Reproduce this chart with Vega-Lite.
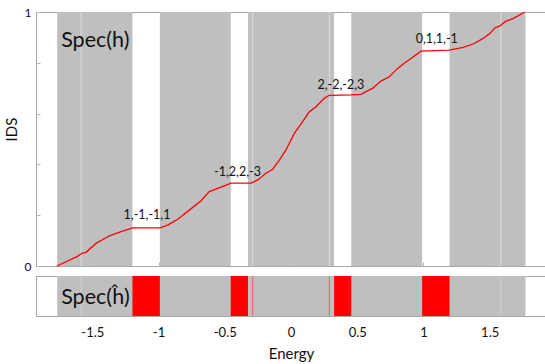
{
  "$schema": "https://vega.github.io/schema/vega-lite/v6.json",
  "padding": {"left": 3, "top": 5, "right": 0, "bottom": 0},
  "background": "white",
  "spacing": 10,
  "bounds": "flush",
  "config": {
    "view": {"stroke": "#a6a6a6", "strokeWidth": 1},
    "font": "Lato",
    "axis": {"grid": false, "labelColor": "#111111", "titleColor": "#111111", "labelFont": "Lato", "titleFont": "Lato", "domainColor": "#a6a6a6", "tickColor": "#b4b4b4", "titleFontWeight": "normal"}
  },
  "datasets": {
    "spec": [
      {"e": -1.765, "e2": -1.197},
      {"e": -0.990, "e2": -0.455},
      {"e": -0.325, "e2": 0.325},
      {"e": 0.455, "e2": 0.990},
      {"e": 1.197, "e2": 1.77}
    ],
    "bspec": [
      {"e": -1.765, "e2": 1.77}
    ],
    "lightlines": [
      {"e": -1.584},
      {"e": -0.290},
      {"e": 0.290},
      {"e": 1.584}
    ],
    "blight": [
      {"e": -1.584},
      {"e": 1.584}
    ],
    "gaps": [
      {"e": -1.197, "e2": -0.990},
      {"e": -0.455, "e2": -0.325},
      {"e": 0.325, "e2": 0.455},
      {"e": 0.990, "e2": 1.197}
    ],
    "redlines": [
      {"e": -0.289},
      {"e": 0.289}
    ],
    "ids": [
      {"e": -1.767, "v": 0.000},
      {"e": -1.616, "v": 0.037},
      {"e": -1.578, "v": 0.050},
      {"e": -1.547, "v": 0.054},
      {"e": -1.472, "v": 0.089},
      {"e": -1.371, "v": 0.119},
      {"e": -1.283, "v": 0.135},
      {"e": -1.195, "v": 0.150},
      {"e": -0.989, "v": 0.150},
      {"e": -0.931, "v": 0.161},
      {"e": -0.855, "v": 0.184},
      {"e": -0.768, "v": 0.220},
      {"e": -0.679, "v": 0.257},
      {"e": -0.617, "v": 0.293},
      {"e": -0.553, "v": 0.306},
      {"e": -0.466, "v": 0.323},
      {"e": -0.455, "v": 0.326},
      {"e": -0.300, "v": 0.326},
      {"e": -0.251, "v": 0.339},
      {"e": -0.189, "v": 0.365},
      {"e": -0.138, "v": 0.381},
      {"e": -0.088, "v": 0.417},
      {"e": -0.038, "v": 0.457},
      {"e": 0.025, "v": 0.522},
      {"e": 0.088, "v": 0.568},
      {"e": 0.138, "v": 0.607},
      {"e": 0.189, "v": 0.627},
      {"e": 0.251, "v": 0.660},
      {"e": 0.289, "v": 0.672},
      {"e": 0.455, "v": 0.674},
      {"e": 0.528, "v": 0.676},
      {"e": 0.617, "v": 0.700},
      {"e": 0.679, "v": 0.728},
      {"e": 0.742, "v": 0.745},
      {"e": 0.805, "v": 0.778},
      {"e": 0.855, "v": 0.798},
      {"e": 0.919, "v": 0.822},
      {"e": 0.981, "v": 0.846},
      {"e": 1.195, "v": 0.850},
      {"e": 1.300, "v": 0.861},
      {"e": 1.375, "v": 0.874},
      {"e": 1.451, "v": 0.896},
      {"e": 1.502, "v": 0.916},
      {"e": 1.540, "v": 0.938},
      {"e": 1.578, "v": 0.945},
      {"e": 1.616, "v": 0.962},
      {"e": 1.679, "v": 0.975},
      {"e": 1.766, "v": 1.000}
    ],
    "notes": [
      {"e": -1.087, "v": 0.200, "t": "1,-1,-1,1"},
      {"e": -0.404, "v": 0.371, "t": "-1,2,2,-3"},
      {"e": 0.377, "v": 0.713, "t": "2,-2,-2,3"},
      {"e": 1.100, "v": 0.894, "t": "0,1,1,-1"}
    ],
    "title1": [{"e": -1.735, "v": 0.886, "t": "Spec(h)"}],
    "title2": [{"e": -1.735, "v": 0.45, "t": "Spec(ĥ)"}]
  },
  "vconcat": [
    {
      "width": 510,
      "height": 254,
      "encoding": {
        "x": {"field": "e", "type": "quantitative", "scale": {"domain": [-1.925, 1.925], "nice": false, "zero": false},
              "axis": {"labels": false, "title": null, "values": [-1.5, -1, -0.5, 0, 0.5, 1, 1.5], "tickSize": 4, "offset": -4, "domain": false}}
      },
      "layer": [
        {"data": {"name": "spec"}, "mark": {"type": "rect", "color": "#bfbfbf"},
         "encoding": {"x2": {"field": "e2"}}},
        {"data": {"name": "lightlines"}, "mark": {"type": "rule", "color": "#d6d6d6", "strokeWidth": 1.3},
         "encoding": {}},
        {"data": {"name": "ids"}, "mark": {"type": "line", "color": "#ff0000", "strokeWidth": 1.3},
         "encoding": {"y": {"field": "v", "type": "quantitative", "scale": {"domain": [0, 1], "nice": false},
              "axis": {"title": "IDS", "titleFontSize": 15, "titlePadding": 5, "titleY": 117, "values": [0, 0.1, 0.2, 0.3, 0.4, 0.5, 0.6, 0.7, 0.8, 0.9, 1], "labelExpr": "datum.value == 0 ? '0' : (datum.value == 1 ? '1' : '')", "tickSize": 4, "offset": -4, "labelPadding": 5, "labelFontSize": 12, "domain": false}}}},
        {"data": {"name": "notes"}, "mark": {"type": "text", "fontSize": 12.5, "color": "#111111", "baseline": "middle", "align": "center"},
         "encoding": {"y": {"field": "v", "type": "quantitative"}, "text": {"field": "t"}}},
        {"data": {"name": "title1"}, "mark": {"type": "text", "fontSize": 21.5, "color": "#111111", "baseline": "middle", "align": "left"},
         "encoding": {"y": {"field": "v", "type": "quantitative"}, "text": {"field": "t"}}}
      ]
    },
    {
      "width": 510,
      "height": 40,
      "encoding": {
        "x": {"field": "e", "type": "quantitative", "scale": {"domain": [-1.925, 1.925], "nice": false, "zero": false},
              "axis": {"title": "Energy", "titleFontSize": 15, "titlePadding": 7, "values": [-1.5, -1, -0.5, 0, 0.5, 1, 1.5], "labelExpr": "'' + datum.value", "ticks": false, "domain": false, "labelPadding": 10, "labelFontSize": 13}}
      },
      "layer": [
        {"data": {"name": "bspec"}, "mark": {"type": "rect", "color": "#bfbfbf"},
         "encoding": {"x2": {"field": "e2"}}},
        {"data": {"name": "blight"}, "mark": {"type": "rule", "color": "#d0d0d0", "strokeWidth": 1},
         "encoding": {}},
        {"data": {"name": "gaps"}, "mark": {"type": "rect", "color": "#ff0000"},
         "encoding": {"x2": {"field": "e2"}}},
        {"data": {"name": "redlines"}, "mark": {"type": "rule", "color": "#f06060", "strokeWidth": 1},
         "encoding": {}},
        {"data": {"name": "title2"}, "mark": {"type": "text", "fontSize": 21.5, "color": "#111111", "baseline": "middle", "align": "left"},
         "encoding": {"y": {"field": "v", "type": "quantitative", "scale": {"domain": [0, 1]}, "axis": null}, "text": {"field": "t"}}}
      ]
    }
  ]
}
